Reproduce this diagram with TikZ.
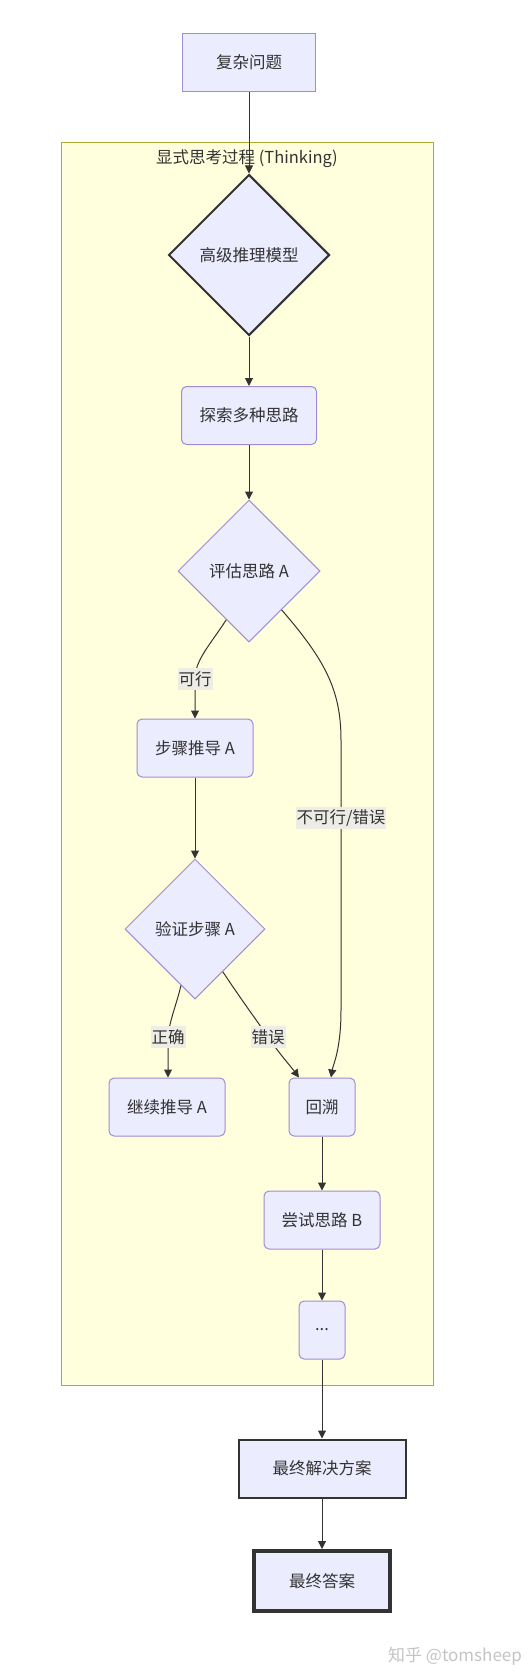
\documentclass[tikz,border=0pt]{standalone}
\usepackage{fontspec}
\setmainfont{Noto Sans CJK SC}
\usetikzlibrary{shapes.geometric,arrows.meta}
\definecolor{nfill}{HTML}{ECECFF}
\definecolor{nline}{HTML}{A08CD0}
\definecolor{cfill}{HTML}{FFFFDE}
\definecolor{cline}{HTML}{AAAA33}
\definecolor{ink}{HTML}{333333}
\definecolor{lblbg}{HTML}{E8E8E8}
\definecolor{wm}{HTML}{C4C4C4}
\begin{document}
\begin{tikzpicture}[x=1pt,y=-1pt,
  font=\fontsize{16.5}{20}\selectfont, text=ink,
  box/.style={draw=nline, fill=nfill, line width=1pt, minimum width=#1, minimum height=58pt, inner sep=0pt},
  rbox/.style={box=#1, rounded corners=5pt},
  dia/.style={diamond, aspect=1, draw=nline, fill=nfill, line width=1pt, minimum width=#1, minimum height=#1, inner sep=0pt},
  edge/.style={draw=ink, line width=1pt, -{Triangle[length=8pt,width=8pt]}},
  lbl/.style={fill=lblbg!80!cfill, inner xsep=1pt, inner ysep=3pt}
]
\useasboundingbox (0,0) rectangle (530,1680);
\fill[white] (0,0) rectangle (530,1680);

% cluster
\node[draw=cline, fill=cfill, line width=1pt, minimum width=372pt, minimum height=1242pt, inner sep=0pt] (cl) at (247,764) {};
\node (ct) at (247,159) {显式思考过程 (Thinking)};

% nodes
\node[box=133pt] (q) at (249,62.5) {复杂问题};
\node[dia=161pt, draw=ink, line width=2pt] (m) at (249,255) {高级推理模型};
\node[rbox=135pt] (e) at (249,415.5) {探索多种思路};
\node[dia=142pt] (a) at (249,571) {评估思路 A};
\node[rbox=116pt] (s) at (195,748) {步骤推导 A};
\node[dia=140pt] (v) at (195,929) {验证步骤 A};
\node[rbox=116pt] (c) at (167,1107) {继续推导 A};
\node[rbox=66pt] (b) at (322,1107) {回溯};
\node[rbox=116pt] (t) at (322,1220) {尝试思路 B};
\node[rbox=46pt] (d) at (322,1330) {...};
\node[box=167pt, draw=ink, line width=2pt] (f) at (322,1468.5) {最终解决方案};
\node[box=136pt, minimum height=60pt, draw=ink, line width=4pt] (g) at (322,1581) {最终答案};

% straight edges
\draw[edge] (q.south) -- (m.north);
\draw[edge] (m.south) -- (e.north);
\draw[edge] (e.south) -- (a.north);
\draw[edge] (s.south) -- (v.north);
\draw[edge] (b.south) -- (t.north);
\draw[edge] (t.south) -- (d.north);
\draw[edge] (d.south) -- (f.north);
\draw[edge] (f.south) -- (g.north);

% curved edges with labels
\coordinate (l1) at (195,679);
\coordinate (l2) at (341,818);
\coordinate (l3) at (168,1037);
\coordinate (l4) at (268,1037);
\draw[edge] (a.245) .. controls (210,645) and (195,660) .. (l1) -- (s.north);
\draw[edge] (a.-50) .. controls (325,660) and (341,690) .. (341,740) -- (l2) -- (341,1010) .. controls (341,1050) and (333,1065) .. ([xshift=9pt]b.north);
\draw[edge] (v.256) .. controls (177,1003) and (169,1022) .. (l3) -- ([xshift=1pt]c.north);
\draw[edge] (v.-57) .. controls (245,1005) and (260,1025) .. (l4) .. controls (278,1052) and (292,1068) .. ([xshift=-23pt]b.north);

\node[lbl] (L1) at (l1) {可行};
\node[lbl] (L2) at (l2) {不可行/错误};
\node[lbl] (L3) at (l3) {正确};
\node[lbl] (L4) at (l4) {错误};

% watermark
\node[text=wm, font=\fontsize{17}{20}\selectfont] (w) at (455,1656) {知乎 @tomsheep};
\end{tikzpicture}
\end{document}
